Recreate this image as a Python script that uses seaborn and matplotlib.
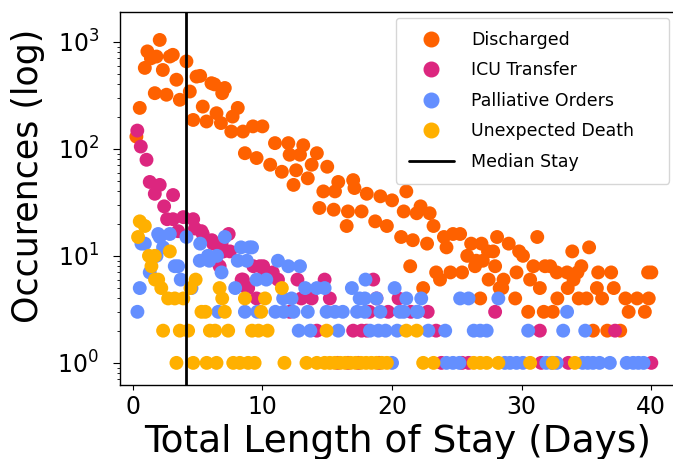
import matplotlib
matplotlib.use("Agg")
import matplotlib.pyplot as plt
import seaborn as sns
import pandas as pd
from matplotlib.lines import Line2D

# ---------------- data ----------------
discharged_days = [0.28, 0.54, 0.93, 1.13, 1.4, 1.7, 1.83, 2.08, 2.32, 2.6, 2.86, 3.09, 3.37, 3.63,
                   4.14, 4.4, 4.66, 4.92, 5.2, 5.4, 5.69, 6.07, 6.3, 6.46, 6.8, 6.9, 7.1, 7.6, 7.7,
                   8.1, 8.5, 8.65, 9.27, 9.55, 10.0, 10.6, 10.97, 11.5, 12.0, 12.1, 12.4, 12.6, 12.9,
                   13.15, 13.5, 13.8, 14.2, 14.4, 14.7, 15.0, 15.5, 15.6, 15.85, 16.5, 16.6, 17.0,
                   17.1, 17.65, 18.05, 18.7, 19.1, 19.6, 20.0, 20.7, 20.9, 21.1, 21.4, 21.6, 21.9,
                   22.2, 22.4, 22.7, 22.9, 23.2, 23.4, 23.7, 24.0, 24.2, 24.5, 24.7, 25.25, 25.4,
                   25.8, 26.1, 26.4, 26.5, 26.8, 26.9, 27.0, 27.4, 27.45, 27.8, 27.95, 28.1, 28.3,
                   28.5, 28.6, 29.0, 29.5, 29.6, 29.8, 30.1, 30.5, 30.65, 30.9, 31.2, 31.4, 31.7,
                   31.8, 32.2, 32.4, 32.7, 32.75, 33.5, 33.55, 33.9, 34.0, 34.3, 34.4, 34.6, 35.0,
                   35.2, 35.5, 35.8, 35.9, 36.2, 36.6, 36.9, 37.1, 37.6, 38.0, 38.25, 38.9, 39.5,
                   39.8, 39.75, 40.0]
discharged_counts = [130, 241, 570, 813, 700, 331, 728, 1040, 545, 320, 728, 755, 442, 287,
                     656, 343, 186, 473, 480, 248, 180, 410, 400, 215, 174, 331, 370, 145, 200,
                     241, 145, 91, 162, 82, 162, 71, 113, 61, 113, 88, 46, 63, 88,
                     108, 53, 71, 91, 28, 40, 68, 27, 40, 49, 19, 26, 51,
                     43, 26, 38, 21, 36, 19, 33, 15, 26, 40, 8, 14, 25,
                     29, 5, 13, 25, 19, 7, 6, 15, 12, 7, 16, 16, 7,
                     10, 13, 8, 9, 4, 13, 9, 11, 6, 11, 8, 15, 5,
                     5, 6, 13, 4, 7, 11, 10, 3, 6, 8, 15, 5, 3,
                     8, 8, 3, 7, 4, 7, 5, 11, 6, 7, 4, 8, 4,
                     12, 2, 5, 7, 4, 2, 7, 5, 2, 4, 3, 4, 3,
                     4, 7, 7]

icu_days = [0.35, 0.62, 1.06, 1.31, 1.7, 2.08, 2.42, 2.65, 3.1, 3.11, 3.5, 3.9, 4.66, 4.8, 5.3,
            5.4, 6.1, 6.2, 6.7, 6.85, 7.0, 7.4, 7.5, 8.4, 8.5, 8.8, 8.9, 9.3, 9.55, 9.8, 10.06,
            10.2, 10.8, 11.2, 12.1, 12.7, 13.0, 13.8, 14.2, 14.8, 15.2, 17.0, 17.65, 18.05,
            18.25, 18.55, 18.8, 19.7, 20.5, 21.45, 22.75, 23.4, 27.95, 31.4, 37.2,
            15.8, 16.6, 17.4, 19.0, 23.8, 25.4, 25.9, 31.5, 33.6, 40.0]
icu_counts = [148, 105, 79, 49, 38, 46, 29, 22, 22, 37, 17, 23, 22, 18, 17,
              16, 14, 13, 8, 13, 11, 16, 11, 6, 6, 5, 5, 8, 4, 8, 8,
              7, 7, 6, 3, 6, 4, 4, 2, 6, 4, 2, 2, 2,
              3, 6, 4, 3, 4, 3, 3, 2, 3, 2, 2,
              1, 1, 1, 1, 1, 1, 1, 1, 1, 1]

palliative_days = [0.36, 0.54, 0.67, 0.93, 1.31, 1.83, 1.96, 2.08, 2.34, 2.86, 3.24, 3.5, 3.7,
                   4.14, 4.53, 5.17, 5.2, 5.8, 5.9, 6.5, 6.6, 6.85, 7.1, 7.9, 8.1, 8.35, 8.65,
                   8.8, 9.0, 9.2, 9.55, 10.3, 11.2, 11.6, 12.0, 12.25, 12.9, 13.3, 14.2, 14.8,
                   16.9, 17.5, 17.9, 17.95, 18.8, 20.2, 20.9, 21.1, 21.9, 22.25, 25.25, 25.9,
                   28.2, 33.5,
                   9.6, 11.0, 11.65, 12.4, 13.5, 14.95, 15.6, 16.2, 17.3, 17.9, 19.1, 20.6, 22.0,
                   12.8, 13.7, 15.85, 18.3, 18.95, 19.5, 20.4, 22.8, 24.1, 26.3, 26.8, 27.3,
                   30.5, 33.2, 34.9,
                   20.0, 24.2, 24.7, 25.2, 28.7, 29.1, 29.6, 30.1, 31.9, 32.3, 32.7, 34.7,
                   35.1, 35.5, 36.0, 36.8, 38.1, 38.6, 39.0, 39.4]
palliative_counts = [3, 5, 13, 13, 7, 10, 16, 15, 12, 16, 8, 8, 6,
                     15, 5, 9, 13, 10, 9, 10, 3, 7, 15, 5, 9, 12, 3,
                     9, 12, 12, 6, 6, 9, 4, 8, 4, 8, 5, 5, 5,
                     5, 4, 4, 6, 4, 5, 3, 4, 3, 4, 4, 4,
                     4, 3,
                     3, 3, 3, 3, 3, 3, 3, 3, 3, 3, 3, 3, 3,
                     2, 2, 2, 2, 2, 2, 2, 2, 2, 2, 2, 2,
                     2, 2, 2,
                     1, 1, 1, 1, 1, 1, 1, 1, 1, 1, 1, 1,
                     1, 1, 1, 1, 1, 1, 1, 1]

death_days = [0.41, 0.54, 0.93, 1.25, 1.44, 1.7, 1.72, 1.96, 2.2, 2.34, 2.73, 2.86, 3.24, 3.63,
              3.9, 4.27, 4.45, 4.85, 5.3, 5.6, 5.95, 6.35, 6.7, 6.9, 7.1, 7.36, 8.65, 9.2,
              9.7, 9.9, 10.2, 10.4, 11.5, 14.95, 21.1, 21.9,
              3.37, 4.66, 5.7, 6.46, 7.75, 8.26, 8.9, 9.4, 11.7, 13.4, 14.2, 14.8, 15.2, 15.6,
              16.0, 16.4, 16.8, 17.2, 17.6, 18.0, 18.4, 18.8, 19.2, 19.6, 22.4, 23.2, 26.3,
              26.8, 27.3, 28.2, 30.65, 32.4, 34.1]
death_counts = [15, 21, 19, 10, 8, 10, 6, 6, 5, 2, 4, 11, 4, 2,
                4, 2, 5, 6, 3, 3, 2, 2, 5, 4, 3, 2, 4, 2,
                2, 3, 4, 2, 5, 2, 2, 2,
                1, 1, 1, 1, 1, 1, 1, 1, 1, 1, 1, 1, 1, 1,
                1, 1, 1, 1, 1, 1, 1, 1, 1, 1, 1, 1, 1,
                1, 1, 1, 1, 1, 1]

median_stay = 4.1

outcomes = ["Discharged", "ICU Transfer", "Palliative Orders", "Unexpected Death"]
colors = ["#FE6100", "#DC267F", "#648FFF", "#FFB000"]

# ---------------- figure ----------------
sns.set_style("ticks")
plt.rcParams["font.family"] = ["DejaVu Sans"]
for key in ["text.color", "axes.labelcolor", "xtick.color", "ytick.color",
            "xtick.labelcolor", "ytick.labelcolor"]:
    plt.rcParams[key] = "black"

frames = []
for name, d, c in zip(outcomes,
                      [discharged_days, icu_days, palliative_days, death_days],
                      [discharged_counts, icu_counts, palliative_counts, death_counts]):
    frames.append(pd.DataFrame({"days": d, "count": c, "outcome": name}))
df = pd.concat(frames, ignore_index=True)

fig = plt.figure(figsize=(6.73, 4.59), dpi=100)
ax = fig.add_axes([0.178, 0.161, 0.827, 0.813])

sns.scatterplot(data=df, x="days", y="count", hue="outcome", hue_order=outcomes,
                palette=dict(zip(outcomes, colors)), s=100, linewidth=0, alpha=1,
                ax=ax, legend=False)
ax.axvline(median_stay, color="black", lw=2)

ax.set_yscale("log")
ax.set_xlim(-1.0, 41.93)
ax.set_ylim(0.62, 1900)
ax.set_xticks([0, 10, 20, 30, 40])
ax.tick_params(axis="both", labelsize=17, colors="black")
ax.tick_params(axis="y", which="major", length=5, pad=10)
ax.set_xlabel("Total Length of Stay (Days)", fontsize=27, color="black")
ax.set_ylabel("Occurences (log)", fontsize=25, color="black")
ax.yaxis.set_label_coords(-0.135, 0.56)
for sp in ax.spines.values():
    sp.set_color("black")
    sp.set_linewidth(1.0)

handles = [Line2D([], [], marker="o", ls="", color=c, markersize=10.5) for c in colors]
handles.append(Line2D([], [], color="black", lw=2))
leg = ax.legend(handles, outcomes + ["Median Stay"], loc="upper left",
                bbox_to_anchor=(0.4955, 0.0, 0.492, 0.984), mode="expand", borderaxespad=0,
                fontsize=12.5, labelspacing=0.72, borderpad=0.75, handlelength=2.6,
                handletextpad=1.0, frameon=True)
for t in leg.get_texts():
    t.set_color("black")

fig.savefig("out.png", dpi=100)
